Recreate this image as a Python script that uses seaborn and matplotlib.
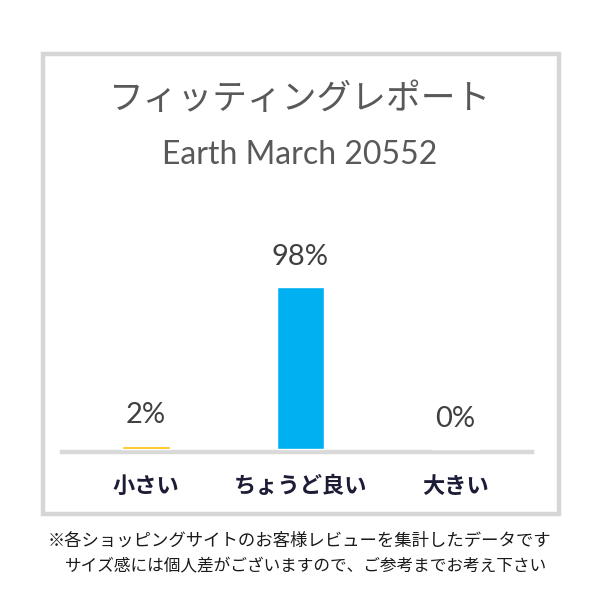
import matplotlib
matplotlib.use("Agg")
import matplotlib.pyplot as plt
from matplotlib.patches import Rectangle
import seaborn as sns
import pandas as pd

# data
sizes = ["小さい", "ちょうど良い", "大きい"]
percents = [2, 98, 0]
bar_colors = ["#FFC000", "#00B0F0", "#00B0F0"]

title = "フィッティングレポート"
product = "Earth March 20552"
notes = ["※各ショッピングサイトのお客様レビューを集計したデータです",
         "サイズ感には個人差がございますので、ご参考までお考え下さい"]

sns.set_style("white")
plt.rcParams['font.family'] = ['Noto Sans CJK JP', 'DejaVu Sans']

df = pd.DataFrame({"size": sizes, "pct": percents})

fig = plt.figure(figsize=(6, 6), dpi=100)
W, H = 600, 600

# outer grey frame
fig.patches.append(Rectangle((43 / W, 1 - 514 / H), 516 / W, 460 / H,
                             transform=fig.transFigure, fill=False,
                             edgecolor="#D6D6D6", linewidth=3.2))

# axes placed in pixels: categories 155px apart, 100% = 165px
left_px, right_px = 62, 532
ax = fig.add_axes([left_px / W, 1 - 449 / H, (right_px - left_px) / W, 247.5 / H])
sns.barplot(data=df, x="size", y="pct", hue="size", palette=bar_colors,
            width=0.31, legend=False, ax=ax, saturation=1)
ax.set_xlim(-0.542, 2.497)
ax.set_ylim(0, 150)

for c, v in zip(ax.containers, percents):
    for p in c:
        p.set_zorder(3)
        p.set_clip_on(False)
    ax.bar_label(c, labels=[f"{v}%"], padding=12.5, fontsize=21,
                 color="#404040", family=["Lato", "DejaVu Sans"])

for s in ["top", "left", "right"]:
    ax.spines[s].set_visible(False)
ax.spines["bottom"].set_color("#D9D9D9")
ax.spines["bottom"].set_linewidth(3.2)
ax.spines["bottom"].set_position(("outward", 1.8))
ax.set_yticks([])
ax.set_xlabel("")
ax.set_ylabel("")
ax.tick_params(axis="x", length=0, pad=17, labelsize=16, labelcolor="#1C1C36")
for t in ax.get_xticklabels():
    t.set_fontweight("bold")

fig.text(0.5, 1 - 100 / H, title, ha="center", va="center", fontsize=25,
         color="#595959", family=["Noto Sans CJK JP"])
fig.text(0.5, 1 - 155 / H, product, ha="center", va="center", fontsize=23,
         color="#595959", family=["Lato", "DejaVu Sans"])

fig.text(48 / W, 1 - 541 / H, notes[0], ha="left", va="center", fontsize=12.5,
         color="#1a1a1a")
fig.text(65 / W, 1 - 567 / H, notes[1], ha="left", va="center", fontsize=12,
         color="#1a1a1a")

fig.savefig("out.png", dpi=100, facecolor="white")
